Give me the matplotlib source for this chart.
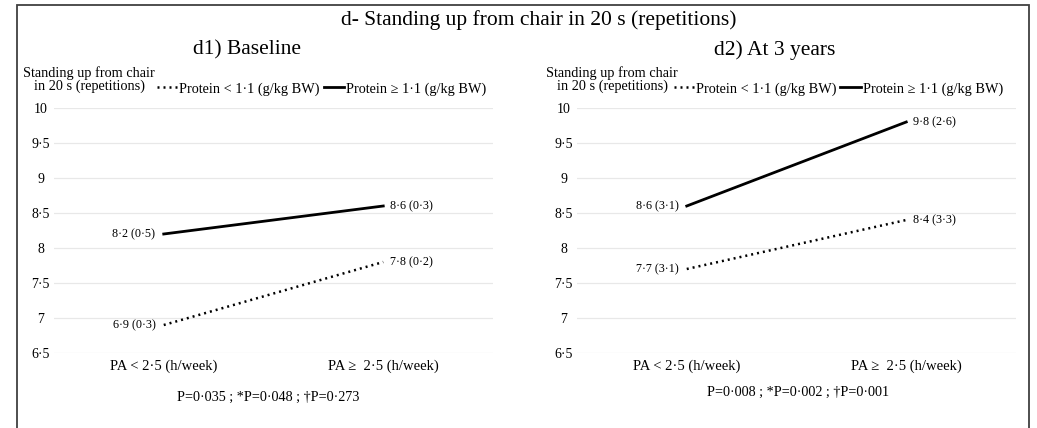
import numpy as np
import matplotlib
matplotlib.use('Agg')
import matplotlib.pyplot as plt
from matplotlib.lines import Line2D
from matplotlib.patches import Rectangle

plt.rcParams['font.family'] = ['Liberation Serif', 'DejaVu Serif']

# data
categories = ['PA < 2\u00b75 (h/week)', 'PA \u2265  2\u00b75 (h/week)']
panel_titles = ['d1) Baseline', 'd2) At 3 years']
low_protein = [[6.9, 7.8], [7.7, 8.4]]
low_sd = [[0.3, 0.2], [3.1, 3.3]]
high_protein = [[8.2, 8.6], [8.6, 9.8]]
high_sd = [[0.5, 0.3], [3.1, 2.6]]
p_texts = ['P=0\u00b7035 ; *P=0\u00b7048 ; \u2020P=0\u00b7273',
           'P=0\u00b7008 ; *P=0\u00b7002 ; \u2020P=0\u00b7001']
yticks = [6.5, 7, 7.5, 8, 8.5, 9, 9.5, 10]


def dot(v):
    return f'{v:g}'.replace('.', '\u00b7')


fig = plt.figure(figsize=(10.37, 4.28), dpi=100)
W, H = 1037, 428

fig.text(539 / W, 1 - 20 / H, 'd- Standing up from chair in 20 s (repetitions)',
         ha='center', va='center', fontsize=15.5)

ax_left = [54, 577]
sub_x = [247, 775]
p_pos = [(268, 397), (798, 392)]
legend_x = [0.61, 0.595]
dotted = (0, (0.8, 1.6))
x = np.arange(len(categories))

for i in range(2):
    ax = fig.add_axes([ax_left[i] / W, 1 - 353 / H, 439 / W, 245 / H])
    ax.plot(x, low_protein[i], color='black', lw=1.8, ls=dotted)
    ax.plot(x, high_protein[i], color='black', lw=2)
    for vals, sds in ((low_protein[i], low_sd[i]), (high_protein[i], high_sd[i])):
        ax.annotate(f'{dot(vals[0])} ({dot(sds[0])})', (x[0], vals[0]),
                    xytext=(-6, 0), textcoords='offset points',
                    ha='right', va='center', fontsize=8.7)
        ax.annotate(f'{dot(vals[1])} ({dot(sds[1])})', (x[1], vals[1]),
                    xytext=(5, 0), textcoords='offset points',
                    ha='left', va='center', fontsize=8.7)
    ax.set_xlim(-0.5, 1.5)
    ax.set_ylim(6.5, 10)
    ax.set_yticks(yticks)
    ax.set_yticklabels([dot(t) for t in yticks], fontsize=10)
    ax.set_xticks(x)
    ax.set_xticklabels(categories, fontsize=10.5)
    ax.tick_params(length=0, pad=5)
    ax.tick_params(axis='y', pad=9.5)
    for lab in ax.get_yticklabels():
        lab.set_horizontalalignment('center')
    for s in ax.spines.values():
        s.set_visible(False)
    ax.grid(axis='y', color='#e8e8e8', lw=0.9)
    ax.set_axisbelow(True)

    ax.text(0.08, 1.115, 'Standing up from chair\nin 20 s (repetitions)',
            transform=ax.transAxes, ha='center', va='center',
            fontsize=10.3, linespacing=0.95)
    handles = [Line2D([], [], color='black', lw=1.8, ls=dotted),
               Line2D([], [], color='black', lw=2)]
    ax.legend(handles, ['Protein < 1\u00b71 (g/kg BW)', 'Protein \u2265 1\u00b71 (g/kg BW)'],
              loc='center', bbox_to_anchor=(legend_x[i], 1.078), ncol=2,
              frameon=False, fontsize=10.3, handlelength=1.4,
              handletextpad=0.15, columnspacing=0.3, borderpad=0)

    fig.text(sub_x[i] / W, 1 - 50 / H, panel_titles[i],
             ha='center', va='center', fontsize=15.5)
    fig.text(p_pos[i][0] / W, 1 - p_pos[i][1] / H, p_texts[i],
             ha='center', va='center', fontsize=10.2)

fig.add_artist(Rectangle((17 / W, -0.02), (1029 - 17) / W, 1.02 - 5 / H,
                         transform=fig.transFigure, fill=False,
                         edgecolor='#404040', lw=1.3, clip_on=False))

fig.savefig('out.png', dpi=100)
